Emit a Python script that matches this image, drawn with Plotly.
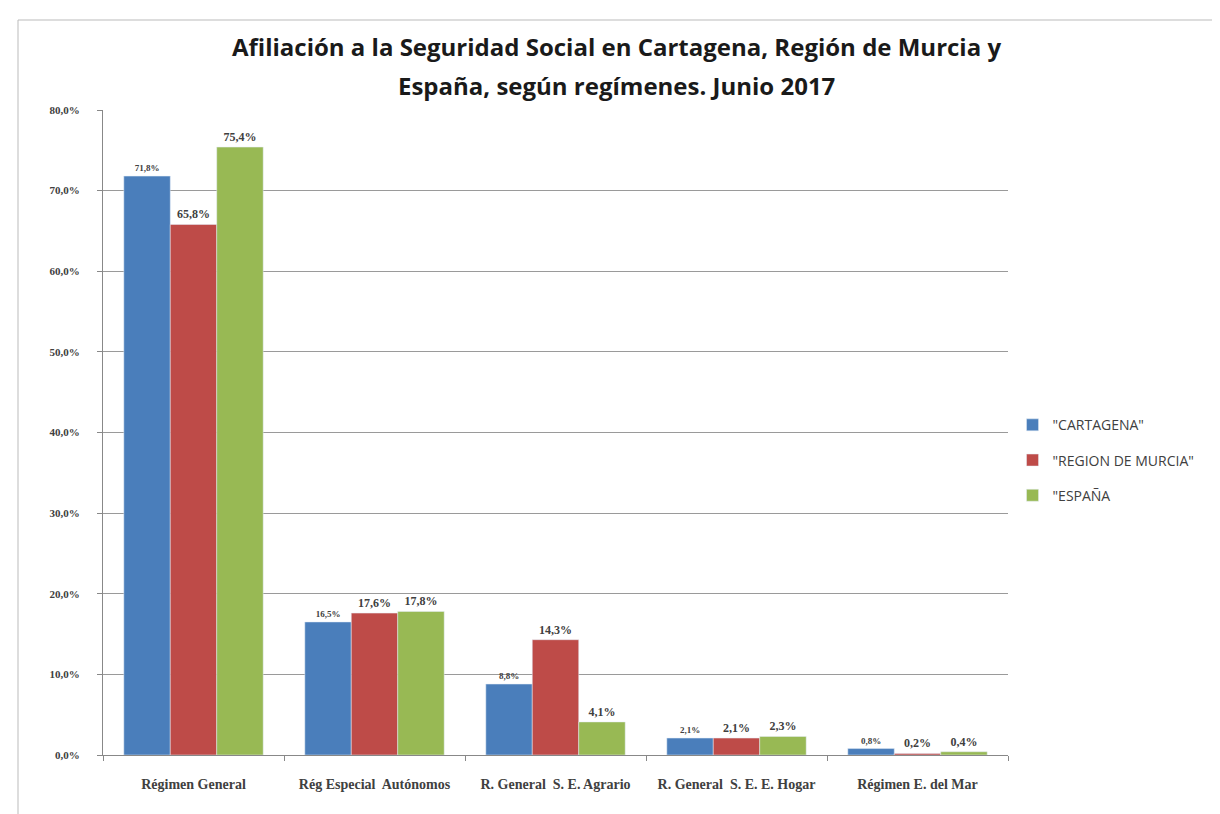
import plotly.graph_objects as go

categories = ["Régimen General", "Rég Especial  Autónomos", "R. General  S. E. Agrario",
              "R. General  S. E. E. Hogar", "Régimen E. del Mar"]
cartagena = [71.8, 16.5, 8.8, 2.1, 0.8]
murcia = [65.8, 17.6, 14.3, 2.1, 0.2]
espana = [75.4, 17.8, 4.1, 2.3, 0.4]
series_names = ['"CARTAGENA"', '"REGION DE MURCIA"', '"ESPAÑA']
colors = ["#4a7ebb", "#be4b48", "#98b954"]
label_sizes = [9, 12, 12]
title_lines = ["Afiliación a la Seguridad Social en Cartagena, Región de Murcia y",
               "España, según regímenes. Junio 2017"]
yticks = list(range(0, 81, 10))

fig = go.Figure()
for i, (name, vals, col, ls) in enumerate(zip(series_names, [cartagena, murcia, espana], colors, label_sizes)):
    fig.add_trace(go.Bar(
        x=categories, y=vals, name=name, marker_color=col, legendgroup="g%d" % i,
        texttemplate="<b>%{y:.1f}%</b>", textposition="outside", cliponaxis=False,
        textfont=dict(family="Liberation Serif", size=ls, color="#404040"),
    ))

W, H = 1212, 806
L, T, R, B = 95, 102, 212, 59
pw, ph = W - L - R, H - T - B

fig.update_layout(
    width=W, height=H,
    separators=",.",
    paper_bgcolor="white", plot_bgcolor="white",
    margin=dict(l=L, r=R, t=T, b=B),
    barmode="group", bargap=0.23, bargroupgap=0,
    xaxis=dict(showline=True, linecolor="#888888", ticks="outside", tickson="boundaries",
               tickcolor="#888888", ticklen=5, ticklabelstandoff=16,
               tickvals=categories, ticktext=["<b>" + c + "</b>" for c in categories],
               tickfont=dict(family="Liberation Serif", size=14, color="#404040")),
    yaxis=dict(range=[0, 80], tickvals=yticks,
               ticktext=[("<b>%.1f%%</b>" % v).replace(".", ",") for v in yticks],
               showline=True, linecolor="#888888", ticks="outside", tickcolor="#888888", ticklen=5,
               ticklabelstandoff=15,
               gridcolor="#9a9a9a", gridwidth=1,
               tickfont=dict(family="Liberation Serif", size=11, color="#404040")),
    legend=dict(x=1.005, y=0.457, xanchor="left", yanchor="middle",
                font=dict(family="Open Sans", size=14, color="#404040"),
                itemwidth=30, tracegroupgap=14),
    showlegend=True,
    annotations=[
        dict(text="<b>%s</b>" % title_lines[0], xref="paper", yref="paper", x=0.567, y=(ph + T - 39) / ph,
             xanchor="center", yanchor="middle", showarrow=False,
             font=dict(family="Open Sans", size=24, color="#1a1a1a")),
        dict(text="<b>%s</b>" % title_lines[1], xref="paper", yref="paper", x=0.567, y=(ph + T - 78) / ph,
             xanchor="center", yanchor="middle", showarrow=False,
             font=dict(family="Open Sans", size=24, color="#1a1a1a")),
    ],
    shapes=[dict(type="rect", xref="paper", yref="paper",
                 x0=(10 - L) / pw, x1=(W + 20 - L) / pw,
                 y0=-(B + 20) / ph, y1=(ph + T - 12) / ph,
                 line=dict(color="#bbbbbb", width=1), layer="below")],
)
fig.write_html("out.html")
